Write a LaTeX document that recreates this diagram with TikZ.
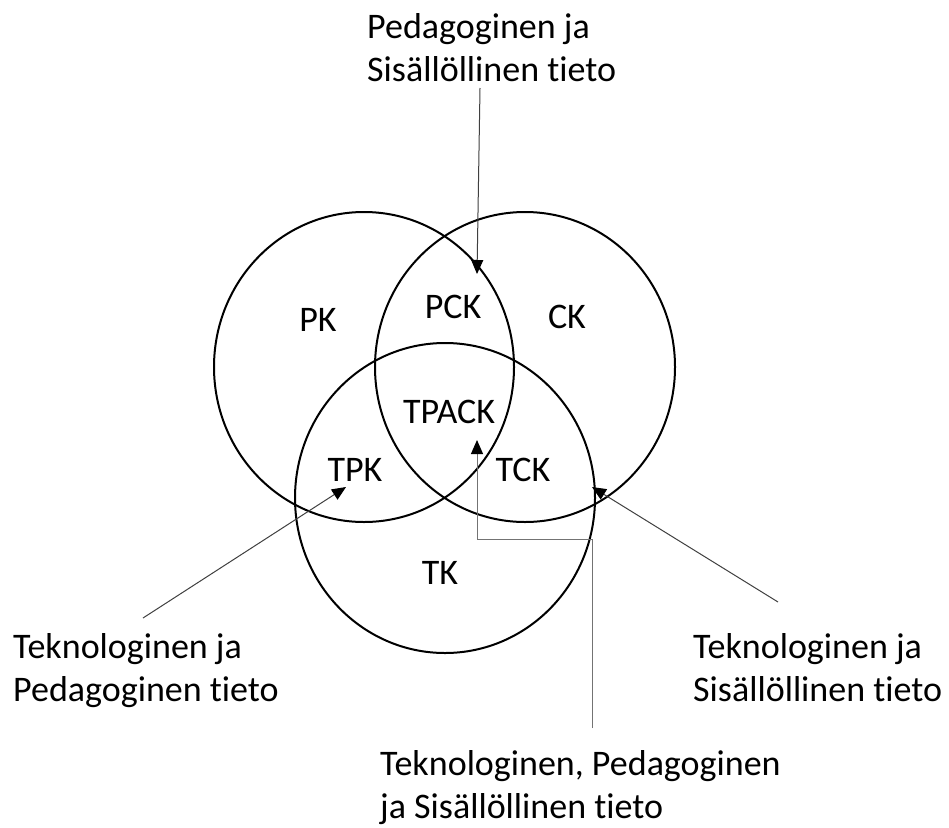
\documentclass[tikz,border=0pt]{standalone}
\usepackage{fontspec}
\setmainfont{Carlito}[RawFeature=-liga]
\usetikzlibrary{shapes.geometric,arrows.meta}
\begin{document}
\begin{tikzpicture}[x=1pt,y=-1pt,
  ring/.style={ellipse,draw=black,line width=2pt,minimum width=300pt,minimum height=310pt,inner sep=0pt},
  lbl/.style={font=\fontsize{36}{43}\selectfont,inner sep=0pt},
  desc/.style={font=\fontsize{36}{43}\selectfont,inner sep=0pt,align=left,anchor=north west},
  pointer/.style={draw=black!75,line width=1pt,-{Triangle[length=14pt,width=12pt,color=black]}}]
\useasboundingbox[fill=white] (0,0) rectangle (949,827);
% circles
\node[ring] (P) at (364,367) {};
\node[ring] (C) at (525,367) {};
\node[ring] (T) at (445,498) {};
% region labels
\node[lbl] (pk) at (318,320) {PK};
\node[lbl] (pck) at (453,307) {PCK};
\node[lbl] (ck) at (567,317) {CK};
\node[lbl] (tpack) at (449,412) {TPACK};
\node[lbl] (tpk) at (355,470) {TPK};
\node[lbl] (tck) at (523,470) {TCK};
\node[lbl] (tk) at (440,573) {TK};
% descriptions
\node[desc] (dpc) at (367,13) {Pedagoginen ja\\Sisällöllinen tieto};
\node[desc] (dtp) at (13,633) {Teknologinen ja\\Pedagoginen tieto};
\node[desc] (dtc) at (693,633) {Teknologinen ja\\Sisällöllinen tieto};
\node[desc] (dtpc) at (380,750) {Teknologinen, Pedagoginen\\ja Sisällöllinen tieto};
% connector ends
\coordinate (a1s) at (480,88);
\coordinate (a1e) at (477,274);
\coordinate (a2s) at (143,618);
\coordinate (a2e) at (346,487);
\coordinate (a3s) at (778,602);
\coordinate (a3e) at (592,487);
\coordinate (a4s) at (592,728);
\coordinate (a4e) at (477,440);
\draw[pointer] (a1s) -- (a1e);
\draw[pointer] (a2s) -- (a2e);
\draw[pointer] (a3s) -- (a3e);
\draw[pointer,draw=black!55] (a4s) |- (477,539) -- (a4e);
\end{tikzpicture}
\end{document}
